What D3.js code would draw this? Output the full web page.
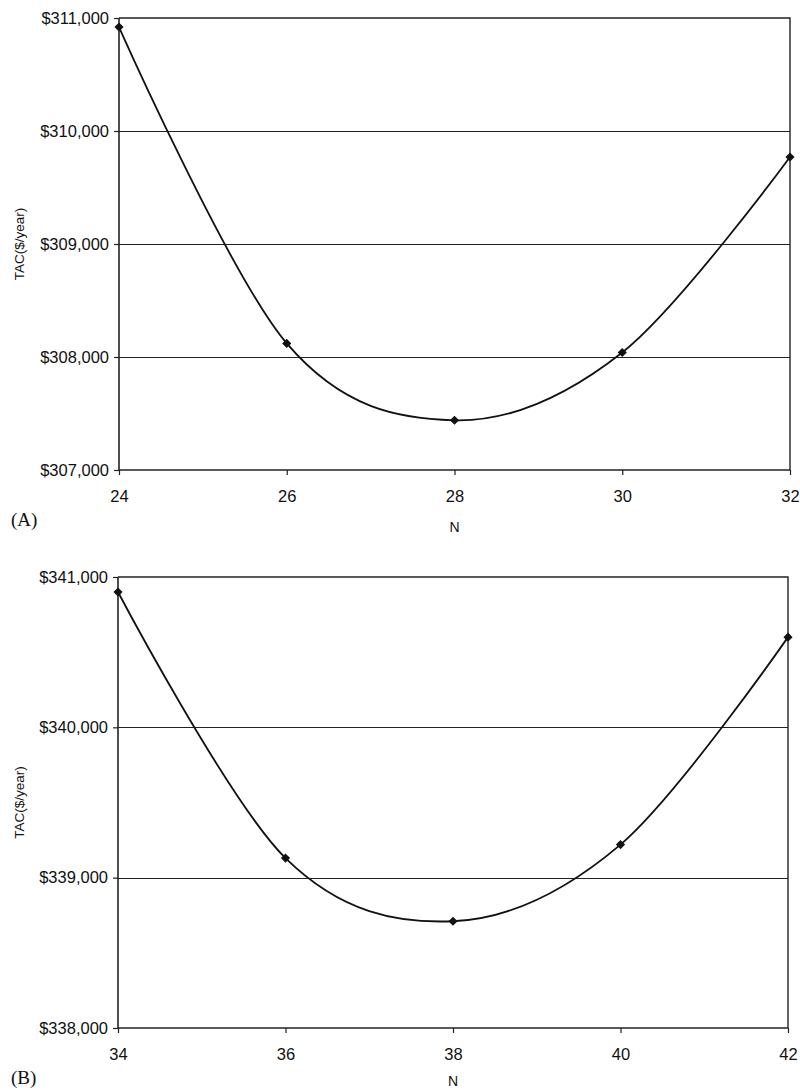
<!DOCTYPE html>
<html>
<head>
<meta charset="utf-8">
<script src="https://cdn.jsdelivr.net/npm/d3@7/dist/d3.min.js"></script>
<style>
  body { margin: 0; background: #fff; }
  svg text { font-family: "Liberation Sans", Arial, sans-serif; fill: #111; }
</style>
</head>
<body>
<svg id="chart" width="800" height="1091"></svg>
<script>
// panel A
const nA = [24, 26, 28, 30, 32];
const tacA = [310920, 308120, 307440, 308040, 309770];
const yTicksA = [307000, 308000, 309000, 310000, 311000];
// panel B
const nB = [34, 36, 38, 40, 42];
const tacB = [340900, 339130, 338710, 339220, 340600];
const yTicksB = [338000, 339000, 340000, 341000];

const svg = d3.select('#chart');
const fmt = d => '$' + d3.format(',')(d);

function drawPanel(opt) {
    const { xs, ys, yTicks, left, right, top, bottom, tag, nY } = opt;
    const g = svg.append('g');
    const x = d3.scaleLinear()
        .domain(d3.extent(xs))
        .range([left, right]);
    const y = d3.scaleLinear()
        .domain(d3.extent(yTicks))
        .range([bottom, top]);

    // gridlines
    g.append('g')
        .selectAll('line')
        .data(yTicks.slice(1, -1))
        .enter()
        .append('line')
        .attr('x1', left).attr('x2', right)
        .attr('y1', d => Math.round(y(d)) + 0.5).attr('y2', d => Math.round(y(d)) + 0.5)
        .attr('stroke', '#222').attr('stroke-width', 1.2);

    // top and right border
    g.append('path')
        .attr('d', `M${left},${top}H${right}V${bottom}`)
        .attr('fill', 'none')
        .attr('stroke', '#222').attr('stroke-width', 1.4);

    const yAxis = g.append('g')
        .attr('transform', `translate(${left},0)`)
        .call(d3.axisLeft(y).tickValues(yTicks).tickFormat(fmt).tickSize(5).tickPadding(5));
    const xAxis = g.append('g')
        .attr('transform', `translate(0,${bottom})`)
        .call(d3.axisBottom(x).tickValues(xs).tickSize(5).tickPadding(15));
    [yAxis, xAxis].forEach(a => {
        a.select('.domain').attr('stroke', '#222').attr('stroke-width', 1.6);
        a.selectAll('.tick line').attr('stroke', '#222').attr('stroke-width', 1.2);
        a.selectAll('text').attr('font-size', 16.5).attr('font-family', '"Liberation Sans", Arial, sans-serif').attr('fill', '#111');
    });
    // domain path has outer ticks by default; remove them
    yAxis.select('.domain').attr('d', `M0,${bottom}V${top}`);
    xAxis.select('.domain').attr('d', `M${left},0H${right}`);

    const pts = xs.map((n, i) => [x(n), y(ys[i])]);
    g.append('path')
        .datum(pts)
        .attr('fill', 'none')
        .attr('stroke', '#111')
        .attr('stroke-width', 1.8)
        .attr('d', d3.line().curve(d3.curveCatmullRom.alpha(0)));

    g.selectAll('.pt')
        .data(pts)
        .enter()
        .append('path')
        .attr('class', 'pt')
        .attr('transform', d => `translate(${d[0]},${d[1]}) rotate(45)`)
        .attr('d', d3.symbol().type(d3.symbolSquare).size(42))
        .attr('fill', '#111');

    // axis titles
    svg.append('text')
        .attr('transform', `translate(24,${(top + bottom) / 2}) rotate(-90)`)
        .attr('text-anchor', 'middle')
        .attr('font-size', 13.5)
        .text('TAC($/year)');
    svg.append('text')
        .attr('x', (left + right) / 2)
        .attr('y', bottom + nY)
        .attr('text-anchor', 'middle')
        .attr('font-size', 14)
        .text('N');
    svg.append('text')
        .attr('x', 11)
        .attr('y', bottom + 56)
        .attr('font-size', 19)
        .style('font-family', '"Liberation Serif", "Times New Roman", serif')
        .text(tag);
}

drawPanel({ xs: nA, ys: tacA, yTicks: yTicksA, left: 119, right: 790, top: 18, bottom: 470, tag: '(A)', nY: 62 });
drawPanel({ xs: nB, ys: tacB, yTicks: yTicksB, left: 118, right: 788, top: 577, bottom: 1028, tag: '(B)', nY: 58 });
</script>
</body>
</html>
